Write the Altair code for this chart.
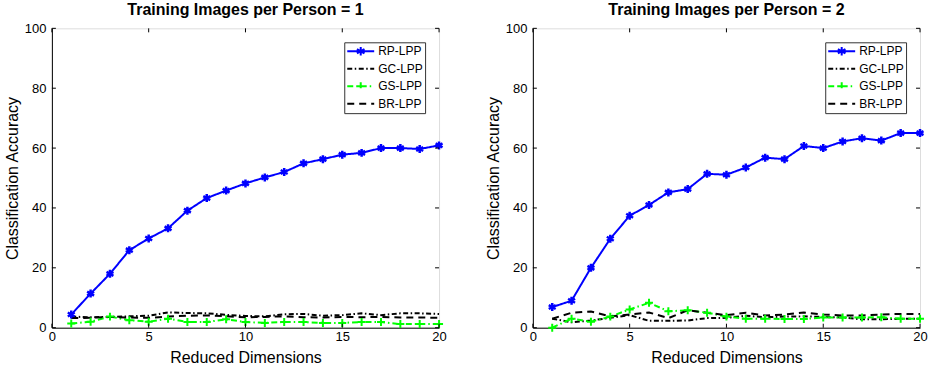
import altair as alt
import pandas as pd

dims = list(range(1, 21))
methods = ["RP-LPP", "GC-LPP", "GS-LPP", "BR-LPP"]
titles = ["Training Images per Person = 1", "Training Images per Person = 2"]

# Panel 1 (1 training image per person)
rp1 = [4.4, 11.4, 18.0, 25.9, 29.8, 33.2, 39.1, 43.3, 45.8, 48.2,
       50.2, 52.0, 54.9, 56.3, 57.8, 58.4, 60.0, 60.0, 59.7, 60.9]
gc1 = [3.7, 3.5, 3.6, 3.8, 4.0, 5.1, 4.9, 4.8, 4.3, 3.9,
       3.8, 4.5, 4.6, 4.0, 4.2, 4.8, 4.2, 4.8, 4.8, 4.6]
gs1 = [1.4, 2.0, 3.7, 2.5, 2.0, 3.0, 1.9, 1.9, 2.8, 1.9,
       1.6, 1.9, 1.9, 1.6, 1.6, 1.9, 1.9, 1.2, 1.2, 1.2]
br1 = [3.2, 3.3, 3.6, 3.4, 3.3, 3.7, 4.0, 4.1, 3.8, 3.5,
       3.6, 3.8, 3.5, 3.4, 3.6, 3.5, 3.6, 3.4, 3.4, 3.3]

# Panel 2 (2 training images per person)
rp2 = [6.9, 9.0, 20.0, 29.7, 37.4, 41.0, 45.2, 46.3, 51.4, 51.1,
       53.5, 56.8, 56.3, 60.7, 60.0, 62.2, 63.3, 62.5, 65.0, 65.0]
gc2 = [3.0, 1.8, 2.4, 3.3, 4.2, 2.3, 2.3, 2.4, 3.2, 3.3,
       4.0, 3.5, 3.7, 3.8, 3.6, 3.4, 2.8, 2.8, 3.0, 3.0]
gs2 = [0.0, 3.0, 2.0, 3.7, 6.1, 8.3, 5.5, 5.8, 5.0, 3.7,
       3.0, 3.0, 2.9, 2.9, 3.4, 3.4, 3.4, 3.5, 3.0, 3.0]
br2 = [3.0, 5.0, 5.4, 3.8, 4.4, 5.1, 3.2, 5.8, 5.0, 4.2,
       5.0, 4.1, 4.4, 5.1, 4.4, 4.1, 4.1, 4.4, 4.6, 4.6]

x_ticks = [0, 5, 10, 15, 20]
y_ticks = [0, 20, 40, 60, 80, 100]

FONT = "Liberation Sans"
W, H = 388, 300

color_scale = alt.Scale(domain=methods, range=["#0000ff", "#000000", "#00ff00", "#000000"])
dash_scale = alt.Scale(domain=methods,
                       range=[[1, 0], [5, 2.5, 1.5, 2.5], [6, 3, 1.5, 3], [7, 5]])

ASTERISK = "M0,-1L0,1M-0.87,-0.5L0.87,0.5M-0.87,0.5L0.87,-0.5"
PLUS = "M0,-1L0,1M-1,0L1,0"
# legend symbols: a line with the marker drawn in its middle
RP_SYM = ("M-1,0L1,0M0,-0.32L0,0.32M-0.28,-0.16L0.28,0.16"
          "M-0.28,0.16L0.28,-0.16")
GS_SYM = "M-1,0L1,0M0,-0.3L0,0.3M-0.3,0L0.3,0"

shape_expr = ("datum.value === 'RP-LPP' ? '%s' : (datum.value === 'GS-LPP' ? '%s' : 'stroke')"
              % (RP_SYM, GS_SYM))

legend = alt.Legend(
    orient="none", legendX=293, legendY=14, title=None,
    fillColor="white", strokeColor="#333333", padding=2,
    labelFont=FONT, labelFontSize=12, labelColor="black",
    symbolType={"expr": shape_expr}, symbolSize=729, symbolStrokeWidth=2,
    rowPadding=3.5, labelOffset=3, clipHeight=14,
)


def panel(title, rp, gc, gs, br):
    rows = []
    for m, vals in zip(methods, [rp, gc, gs, br]):
        for d, v in zip(dims, vals):
            rows.append({"dim": d, "acc": v, "method": m})
    df = pd.DataFrame(rows)

    xs = alt.Scale(domain=[0, 20], nice=False)
    ys = alt.Scale(domain=[0, 100], nice=False)

    base = alt.Chart(df)
    lines = base.mark_line(strokeWidth=2).encode(
        x=alt.X("dim:Q", scale=xs, axis=alt.Axis(
            title="Reduced Dimensions", values=x_ticks, ticks=False, grid=False,
            labelFlush=False,
            labelFont=FONT, labelFontSize=13, labelColor="black",
            titleFont=FONT, titleFontSize=16, titleFontWeight="normal",
            titleColor="black", domainColor="black", labelPadding=3, titlePadding=6)),
        y=alt.Y("acc:Q", scale=ys, axis=alt.Axis(
            title="Classification Accuracy", values=y_ticks, ticks=False, grid=False,
            labelFlush=False,
            labelFont=FONT, labelFontSize=13, labelColor="black",
            titleFont=FONT, titleFontSize=16, titleFontWeight="normal",
            titleColor="black", domainColor="black", labelPadding=6, titlePadding=4)),
        color=alt.Color("method:N", scale=color_scale, legend=legend),
        strokeDash=alt.StrokeDash("method:N", scale=dash_scale, legend=legend),
    )

    rp_pts = base.transform_filter("datum.method == 'RP-LPP'").mark_point(
        shape=ASTERISK, size=64, strokeWidth=2.5, color="#0000ff", filled=False, opacity=1
    ).encode(x=alt.X("dim:Q", scale=xs), y=alt.Y("acc:Q", scale=ys))
    gs_pts = base.transform_filter("datum.method == 'GS-LPP'").mark_point(
        shape=PLUS, size=64, strokeWidth=2, color="#00ff00", filled=False, opacity=1
    ).encode(x=alt.X("dim:Q", scale=xs), y=alt.Y("acc:Q", scale=ys))

    xt = pd.DataFrame({"t": x_ticks})
    yt = pd.DataFrame({"t": y_ticks})
    tk = dict(color="black", strokeWidth=1)
    xb = alt.Chart(xt).mark_rule(**tk).encode(
        x=alt.X("t:Q", scale=xs), y=alt.value(H), y2=alt.value(H - 4))
    xtp = alt.Chart(xt).mark_rule(**tk).encode(
        x=alt.X("t:Q", scale=xs), y=alt.value(0), y2=alt.value(4))
    yl = alt.Chart(yt).mark_rule(**tk).encode(
        y=alt.Y("t:Q", scale=ys), x=alt.value(0), x2=alt.value(4))
    yr = alt.Chart(yt).mark_rule(**tk).encode(
        y=alt.Y("t:Q", scale=ys), x=alt.value(W), x2=alt.value(W - 4))

    return alt.layer(lines, gs_pts, rp_pts, xb, xtp, yl, yr).properties(
        width=W, height=H,
        title=alt.TitleParams(title, font=FONT, fontSize=16, fontWeight="bold",
                              color="black", offset=4),
    )


p1 = panel(titles[0], rp1, gc1, gs1, br1)
p2 = panel(titles[1], rp2, gc2, gs2, br2)

chart = alt.hconcat(p1, p2, spacing=94, bounds="flush").resolve_scale(
    color="independent", strokeDash="independent"
).resolve_legend(
    color="independent", strokeDash="independent"
).configure_view(
    stroke="black", strokeWidth=1
).configure(
    padding={"left": 3, "top": 1, "right": 5, "bottom": 5},
    background="white",
)

chart.save("out.html", embed_options={"renderer": "svg", "actions": False})
